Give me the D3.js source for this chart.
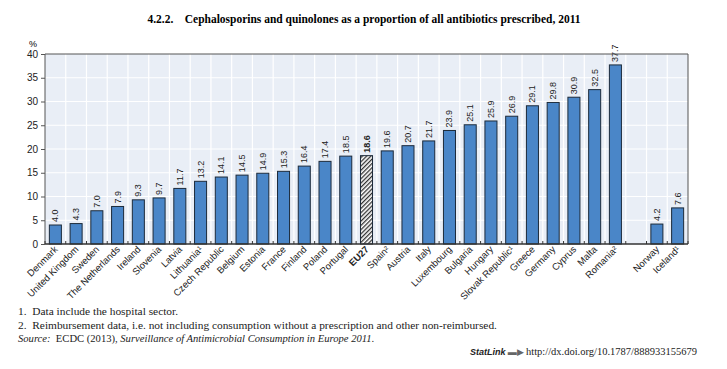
<!DOCTYPE html>
<html><head><meta charset="utf-8">
<script src="https://cdn.jsdelivr.net/npm/d3@7/dist/d3.min.js"></script>
<style>body{margin:0;background:#fff;}svg{display:block;}</style>
</head><body>
<script>
const categories = ["Denmark","United Kingdom","Sweden","The Netherlands","Ireland","Slovenia","Latvia","Lithuania¹","Czech Republic","Belgium","Estonia","France","Finland","Poland","Portugal","EU27","Spain²","Austria","Italy","Luxembourg","Bulgaria","Hungary","Slovak Republic¹","Greece","Germany","Cyprus","Malta","Romania²","","Norway","Iceland¹"];
const values = [4.0,4.3,7.0,7.9,9.3,9.7,11.7,13.2,14.1,14.5,14.9,15.3,16.4,17.4,18.5,18.6,19.6,20.7,21.7,23.9,25.1,25.9,26.9,29.1,29.8,30.9,32.5,37.7,null,4.2,7.6];
const yTicks = [0,5,10,15,20,25,30,35,40];
const highlight = "EU27";

const W=727,H=369;
const m={l:45,r:39,t:54,b:125};
const svg=d3.select("body").append("svg").attr("width",W).attr("height",H);
const defs=svg.append("defs");
const pat=defs.append("pattern").attr("id","hatch").attr("patternUnits","userSpaceOnUse").attr("width",3).attr("height",3).attr("patternTransform","rotate(45)");
pat.append("rect").attr("width",3).attr("height",3).attr("fill","#fff");
pat.append("rect").attr("width",1.3).attr("height",3).attr("fill","#333");

const x=d3.scaleBand().domain(categories.map((c,i)=>i)).range([m.l,W-m.r]).paddingInner(0.42).paddingOuter(0.21);
const y=d3.scaleLinear().domain([0,40]).range([H-m.b,m.t]);
const x0=m.l,x1=W-m.r,step=(x1-x0)/categories.length;

svg.append("text").attr("x",364).attr("y",23).attr("text-anchor","middle")
 .attr("font-family","Liberation Serif, serif").attr("font-weight","bold").attr("font-size",11.6)
 .attr("textLength",433).attr("lengthAdjust","spacingAndGlyphs")
 .text("4.2.2.\u2002\u2002Cephalosporins and quinolones as a proportion of all antibiotics prescribed, 2011");

svg.append("rect").attr("x",x0).attr("y",y(40)).attr("width",x1-x0).attr("height",y(0)-y(40)).attr("fill","#e9eef6");
// grid
svg.append("g").selectAll("line").data(yTicks.slice(1,-1)).join("line")
 .attr("x1",x0).attr("x2",x1).attr("y1",d=>y(d)).attr("y2",d=>y(d)).attr("stroke","#fff").attr("stroke-width",1.2);
svg.append("g").selectAll("line").data(d3.range(1,categories.length)).join("line")
 .attr("x1",i=>x0+i*step).attr("x2",i=>x0+i*step).attr("y1",y(40)).attr("y2",y(0)).attr("stroke","#fff").attr("stroke-width",1.2);

// bars
const data=categories.map((c,i)=>({c,i,v:values[i]})).filter(d=>d.v!=null);
svg.append("g").selectAll("rect").data(data).join("rect")
 .attr("x",d=>x(d.i)).attr("width",x.bandwidth()).attr("y",d=>y(d.v)).attr("height",d=>y(0)-y(d.v))
 .attr("fill",d=>d.c===highlight?"url(#hatch)":"#4a86c8").attr("stroke","#1c2a3a").attr("stroke-width",1);

// value labels
svg.append("g").selectAll("text").data(data).join("text")
 .attr("transform",d=>`translate(${x(d.i)+x.bandwidth()/2+3},${y(d.v)-3}) rotate(-90)`)
 .attr("font-family","Liberation Sans Narrow, Arial Narrow, Liberation Sans, sans-serif").attr("font-size",9)
 .attr("font-weight",d=>d.c===highlight?"bold":"normal")
 .attr("fill","#222").text(d=>d.v.toFixed(1));

// axes frame
svg.append("line").attr("x1",x0).attr("x2",x1).attr("y1",y(40)).attr("y2",y(40)).attr("stroke","#555").attr("stroke-width",1);
svg.append("line").attr("x1",x1).attr("x2",x1).attr("y1",y(40)).attr("y2",y(0)).attr("stroke","#555").attr("stroke-width",1);
svg.append("line").attr("x1",x0).attr("x2",x0).attr("y1",y(40)).attr("y2",y(0)).attr("stroke","#555").attr("stroke-width",1);
svg.append("line").attr("x1",x0).attr("x2",x1).attr("y1",y(0)).attr("y2",y(0)).attr("stroke","#333").attr("stroke-width",1.3);
// bottom ticks
svg.append("g").selectAll("line").data(d3.range(0,categories.length+1)).join("line")
 .attr("x1",i=>x0+i*step).attr("x2",i=>x0+i*step).attr("y1",y(0)-3).attr("y2",y(0)).attr("stroke","#333");
// y axis
const ya=svg.append("g").attr("transform",`translate(${x0},0)`).call(d3.axisLeft(y).tickValues(yTicks).tickSize(4).tickPadding(3));
ya.select(".domain").remove();
ya.selectAll("line").attr("stroke","#555");
ya.selectAll("text").attr("font-family","Liberation Sans Narrow, Arial Narrow, Liberation Sans, sans-serif").attr("font-size",10).attr("fill","#222");
svg.append("text").attr("x",33).attr("y",47).attr("text-anchor","middle").attr("font-family","Liberation Sans Narrow, Liberation Sans, sans-serif").attr("font-size",9).text("%");

// x labels
svg.append("g").selectAll("text").data(categories.map((c,i)=>({c,i})).filter(d=>d.c)).join("text")
 .attr("transform",d=>`translate(${x(d.i)+x.bandwidth()/2+3},${y(0)+6}) rotate(-45)`)
 .attr("text-anchor","end").attr("font-family","Liberation Sans Narrow, Arial Narrow, Liberation Sans, sans-serif").attr("font-size",9.5)
 .attr("font-weight",d=>d.c===highlight?"bold":"normal").attr("fill","#222").text(d=>d.c);

// footnotes
const fn=svg.append("g").attr("font-family","Liberation Serif, serif").attr("font-size",11.4).attr("fill","#222");
fn.append("text").attr("x",18).attr("y",315).text("1.\u2002Data include the hospital sector.");
fn.append("text").attr("x",18).attr("y",328.5).text("2.\u2002Reimbursement data, i.e. not including consumption without a prescription and other non-reimbursed.");
const s=fn.append("text").attr("x",18).attr("y",342).attr("font-size",10.6);
s.append("tspan").attr("font-style","italic").text("Source:");
s.append("tspan").text("\u2002ECDC (2013), ");
s.append("tspan").attr("font-style","italic").text("Surveillance of Antimicrobial Consumption in Europe 2011");
s.append("tspan").text(".");
const sl=svg.append("text").attr("x",697).attr("y",355).attr("text-anchor","end").attr("font-family","Liberation Serif, serif").attr("font-size",10.5).attr("fill","#222");
sl.append("tspan").attr("font-style","italic").attr("font-weight","bold").attr("font-family","Liberation Sans, sans-serif").attr("font-size",9).text("StatLink");
sl.append("tspan").attr("font-size",9).attr("fill","#666").text(" \u25AC\u25B6 ");
sl.append("tspan").text("http://dx.doi.org/10.1787/888933155679");
</script>
</body></html>
